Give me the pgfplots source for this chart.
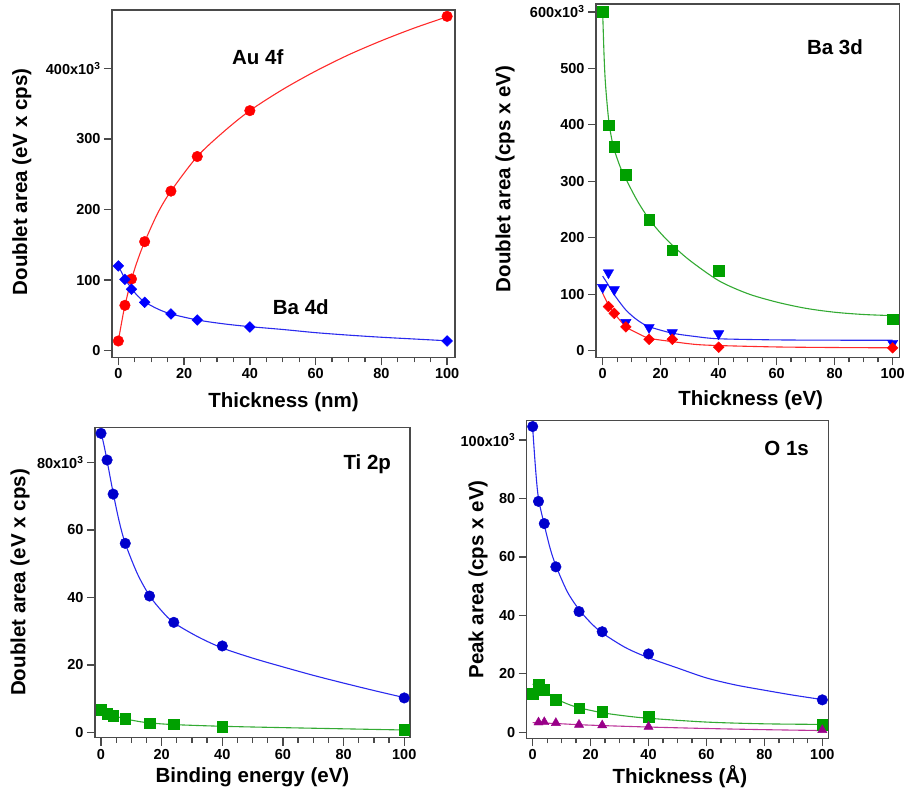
\documentclass[border=0pt]{standalone}
\usepackage{fontspec}
\setmainfont{Liberation Sans}
\usepackage{pgfplots}
\pgfplotsset{compat=1.18}
\definecolor{framegray}{HTML}{4A4A4A}
\definecolor{mred}{HTML}{FF0000}
\definecolor{lred}{HTML}{FF2A2A}
\definecolor{mblue}{HTML}{0000FF}
\definecolor{lblue}{HTML}{2A2AEE}
\definecolor{dblue}{HTML}{0000CC}
\definecolor{mgreen}{HTML}{00A000}
\definecolor{lgreen}{HTML}{33AA33}
\definecolor{mpurple}{HTML}{990088}
\definecolor{lpurple}{HTML}{BB3399}
\pgfplotsset{igor/.style={
  scale only axis, anchor=south west,
  axis line style={draw=framegray, line width=1.3pt},
  tick style={draw=framegray, line width=1.3pt},
  tick align=outside, tick pos=left,
  major tick length=8pt, minor tick length=5pt,
  minor x tick num=3,
  xtick={0,20,40,60,80,100}, xticklabels={0,20,40,60,80,100},
  ticklabel style={font=\fontsize{14.5}{16}\selectfont\bfseries, text=black},
  label style={font=\fontsize{20.5}{23}\selectfont\bfseries},
  /pgf/number format/assume math mode=true,
  clip=false,
},
fitline/.style={no marks, smooth, line width=1.1pt},
pts/.style={only marks},
dia/.style={only marks, mark=square*, mark size=3.8pt, mark options={rotate=45}},
}
\begin{document}
\begin{tikzpicture}
\useasboundingbox (0,0) rectangle (906pt,794pt);
% ---------- Panel 1 ----------
\begin{axis}[igor, at={(112pt,436.7pt)}, width=343pt, height=347.3pt,
  xmin=-1.93, xmax=102.4, ymin=-9.4, ymax=482.6,
  ytick={0,100,200,300,400}, yticklabels={0,100,200,300,{400x10\textsuperscript{3}}},
  xlabel={Thickness (nm)}, ylabel={Doublet area (eV x cps)},
  xlabel style={at={(axis description cs:0.5,-0.129)}, anchor=center},
  ylabel style={at={(axis description cs:-0.263,0.505)}, anchor=center}]
\addplot[fitline, lred] coordinates {(0,14) (1,40) (2,64) (4,101) (6,130) (8,154) (12,195) (16,226) (24,275) (32,310) (40,340) (50,370) (60,396) (70,419) (80,439) (90,457) (100,473)};
\addplot[fitline, lblue] coordinates {(0,120) (2,102) (4,88) (6,77) (8,69) (12,59) (16,52) (24,43.5) (32,38) (40,34) (50,30) (60,25.5) (70,22) (80,19) (90,16.5) (100,14)};
\addplot[pts, mark=*, mark size=5.3pt, color=mred] coordinates {(0,13.7) (2,64.2) (4,101.5) (8,154.4) (16,226) (24,275) (40,340) (100,473.6)};
\addplot[dia, color=mblue] coordinates {(0,120) (2,101) (4,87) (8,68.5) (16,52) (24,43.4) (40,33.5) (100,13.7)};
\node[font=\fontsize{20.5}{23}\selectfont\bfseries] at (axis cs:42.4,415.6) {Au 4f};
\node[font=\fontsize{20.5}{23}\selectfont\bfseries] at (axis cs:55.5,61.9) {Ba 4d};
\end{axis}
% ---------- Panel 2 ----------
\begin{axis}[igor, at={(596pt,436.7pt)}, width=303.3pt, height=353.3pt,
  xmin=-2.3, xmax=102.3, ymin=-11.8, ymax=614,
  ytick={0,100,200,300,400,500,600}, yticklabels={0,100,200,300,400,500,{600x10\textsuperscript{3}}},
  xlabel={Thickness (eV)}, ylabel={Doublet area (cps x eV)},
  xlabel style={at={(axis description cs:0.51,-0.121)}, anchor=center},
  ylabel style={at={(axis description cs:-0.300,0.505)}, anchor=center}]
\addplot[fitline, lgreen] coordinates {(0,600) (0.5,520) (1,470) (2,412) (3,378) (4,356) (6,326) (8,304) (12,265) (16,233) (20,208) (24,187) (30,160) (40,124) (50,101) (60,86) (70,75) (80,68) (90,64) (100,62)};
\addplot[fitline, lblue] coordinates {(0,132) (2,116) (4,99) (8,72) (12,54) (16,42.5) (24,31) (32,25) (40,21) (60,19) (80,18.5) (100,18.3)};
\addplot[fitline, lred] coordinates {(0,101.6) (2,81) (4,66) (8,42.5) (12,31) (16,22) (24,16) (32,11) (40,9) (60,6.5) (80,5.5) (100,5)};
\addplot[pts, mark=square*, mark size=5.3pt, color=mgreen] coordinates {(0,600) (2,399) (4,361.4) (8,312) (16,232) (24,178) (40,141.7) (100,55.5)};
\addplot[pts, mark=triangle*, mark size=6pt, mark options={rotate=180}, color=mblue] coordinates {(0,112) (2,138) (4,108) (8,50) (16,41) (24,32) (40,30) (100,13)};
\addplot[dia, color=mred] coordinates {(2,78) (4,66) (8,42) (16,20) (24,20) (40,6) (100,5)};
\node[font=\fontsize{20.5}{23}\selectfont\bfseries] at (axis cs:80.1,538) {Ba 3d};
\end{axis}
% ---------- Panel 3 ----------
\begin{axis}[igor, at={(95pt,56.3pt)}, width=315pt, height=310.4pt,
  xmin=-1.98, xmax=101.9, ymin=-1.58, ymax=90.4,
  ytick={0,20,40,60,80}, yticklabels={0,20,40,60,{80x10\textsuperscript{3}}},
  xlabel={Binding energy (eV)}, ylabel={Doublet area (eV x cps)},
  xlabel style={at={(axis description cs:0.5,-0.126)}, anchor=center},
  ylabel style={at={(axis description cs:-0.238,0.5)}, anchor=center}]
\addplot[fitline, lblue] coordinates {(0,89) (1,85) (2,80.5) (4,71) (6,62.5) (8,56) (12,47) (16,40.5) (20,36) (24,32.5) (32,28.3) (40,25) (50,22) (60,19.4) (70,16.9) (80,14.6) (90,12.4) (100,10.3)};
\addplot[fitline, lgreen] coordinates {(0,6.9) (2,5.8) (4,5.0) (8,4.0) (12,3.3) (16,2.8) (24,2.3) (40,1.8) (60,1.4) (80,1.05) (100,0.7)};
\addplot[pts, mark=*, mark size=5.3pt, color=dblue] coordinates {(0,88.6) (2,80.7) (4,70.6) (8,56) (16,40.4) (24,32.6) (40,25.6) (100,10.2)};
\addplot[pts, mark=square*, mark size=5.3pt, color=mgreen] coordinates {(0,6.8) (2,5.6) (4,4.9) (8,4.05) (16,2.7) (24,2.4) (40,1.7) (100,0.7)};
\node[font=\fontsize{20.5}{23}\selectfont\bfseries] at (axis cs:87.8,79.5) {Ti 2p};
\end{axis}
% ---------- Panel 4 ----------
\begin{axis}[igor, at={(526.7pt,55.7pt)}, width=301.6pt, height=317.6pt,
  xmin=-2.07, xmax=102.07, ymin=-2.05, ymax=106.6,
  ytick={0,20,40,60,80,100}, yticklabels={0,20,40,60,80,{100x10\textsuperscript{3}}},
  xlabel={Thickness (Å)}, ylabel={Peak area (cps x eV)},
  xlabel style={at={(axis description cs:0.508,-0.121)}, anchor=center},
  ylabel style={at={(axis description cs:-0.161,0.5)}, anchor=center}]
\addplot[fitline, lblue] coordinates {(0,104) (1,90) (2,80) (4,71) (6,63) (8,57) (12,48) (16,42) (20,37.5) (24,34) (32,29) (40,25.5) (50,22) (60,18.6) (70,16.2) (80,14.4) (90,12.7) (100,11.2)};
\addplot[fitline, lgreen] coordinates {(0,16.5) (2,15.5) (4,14) (8,11.5) (12,9.7) (16,8.4) (24,6.7) (32,5.6) (40,4.8) (60,3.5) (80,2.9) (100,2.7)};
\addplot[fitline, lpurple] coordinates {(0,3.3) (8,3.0) (16,2.6) (24,2.3) (40,1.8) (60,1.3) (80,0.9) (100,0.6)};
\addplot[pts, mark=*, mark size=5.3pt, color=dblue] coordinates {(0,104.6) (2,79) (4,71.4) (8,56.6) (16,41.3) (24,34.4) (40,26.8) (100,11.1)};
\addplot[pts, mark=square*, mark size=5.3pt, color=mgreen] coordinates {(0,13.3) (2,16.5) (4,14.5) (8,11.1) (16,8.3) (24,7) (40,5.4) (100,2.5)};
\addplot[pts, mark=triangle*, mark size=5.3pt, color=mpurple] coordinates {(2,3.4) (4,3.5) (8,3.2) (16,2.6) (24,2.4) (40,1.9) (100,0.8)};
\node[font=\fontsize{20.5}{23}\selectfont\bfseries] at (axis cs:87.7,97.1) {O 1s};
\end{axis}
\end{tikzpicture}
\end{document}
